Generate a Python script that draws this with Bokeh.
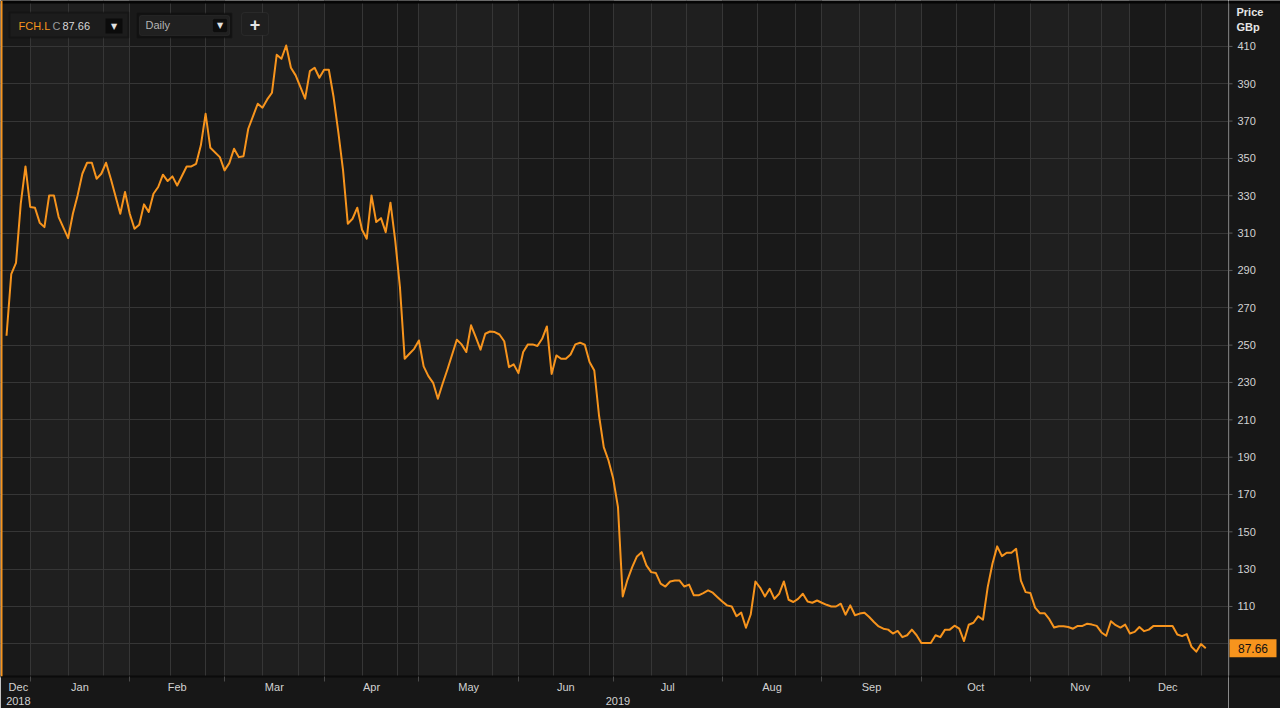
from bokeh.plotting import figure
from bokeh.layouts import row
from bokeh.models import (FixedTicker, Range1d, Label, BoxAnnotation,
                          ColumnDataSource)
from bokeh.core.properties import value
from bokeh.embed import file_html
from bokeh.resources import INLINE

# ---------------- data (trading-day index, close in GBp) ----------------
day = [0, 1, 2, 3, 4, 5, 6, 7, 8, 9, 10, 11, 13, 14, 15, 16, 17, 18, 19, 20,
       21, 22, 24, 25, 26, 27, 28, 29, 30, 31, 32, 33, 34, 35, 36, 38, 39, 40,
       41, 42, 43, 45, 46, 47, 48, 49, 50, 51, 53, 54, 55, 56, 57, 58, 59, 60,
       61, 63, 64, 65, 66, 67, 68, 69, 70, 71, 72, 73, 74, 75, 76, 77, 78, 79,
       80, 81, 82, 83, 84, 85, 86, 87, 88, 89, 90, 91, 92, 93, 95, 96, 97, 98,
       99, 100, 101, 102, 103, 104, 105, 106, 107, 108, 109, 110, 111, 112,
       113, 114, 115, 116, 117, 118, 119, 120, 121, 122, 123, 124, 125, 126,
       127, 128, 129, 130, 131, 132, 133, 134, 135, 136, 137, 138, 139, 140,
       141, 142, 143, 144, 145, 146, 147, 148, 149, 150, 151, 152, 153, 154,
       155, 156, 157, 158, 159, 160, 161, 162, 163, 164, 165, 166, 167, 168,
       169, 170, 171, 172, 173, 174, 175, 176, 177, 178, 179, 180, 181, 182,
       183, 184, 185, 186, 187, 188, 189, 190, 191, 192, 193, 194, 195, 196,
       197, 198, 199, 200, 201, 202, 203, 204, 205, 206, 207, 208, 209, 210,
       211, 212, 213, 214, 215, 216, 217, 218, 219, 220, 221, 222, 223, 224,
       225, 226, 227, 228, 229, 230, 231, 232, 233, 234, 235, 236, 237, 238,
       239, 240, 241, 242, 243, 244, 245, 246, 247, 248, 249, 250, 251, 252,
       253]
price = [255, 288, 294, 325.7, 345.7, 324, 323.6, 315.6, 313.2, 330.2, 330.2,
         318.6, 307.3, 320.4, 330.2, 341.8, 347.7, 347.7, 339.1, 341.8, 347.7,
         339.1, 320.4, 332, 320.4, 312.3, 314.5, 325.4, 321.3, 331.1, 334.7,
         341.3, 337.9, 340.4, 335.5, 345.7, 345.7, 347.1, 357, 373.9, 355.7,
         350.7, 343.6, 347.5, 355.2, 350.7, 351.2, 365.9, 379.3, 377.2, 381.6,
         385.2, 405.5, 403.4, 410.5, 398.6, 394.5, 382, 396.8, 398.6, 393.2,
         397.5, 397.5, 382.9, 364.1, 343.6, 315, 317.7, 323.6, 311.8, 307,
         330.2, 315.9, 318, 310.5, 326.3, 306.1, 281.1, 242.7, 245.4, 248,
         252.5, 238.6, 233.4, 229.8, 221.3, 229.3, 236.8, 252.9, 250.4, 246.3,
         260.6, 254.3, 247.6, 256.1, 257.3, 257, 255.7, 252.1, 238.2, 239.7,
         235, 246.3, 250.4, 250.4, 249.5, 253.4, 260, 234.6, 244.5, 242.7,
         242.7, 245, 250.4, 251.3, 250.2, 241, 236.4, 212.3, 195.4, 188.2,
         178.4, 163.2, 115.4, 124.3, 131.1, 136.8, 139.1, 132, 128.4, 127.9,
         122.2, 120.7, 123.4, 123.9, 123.9, 120.7, 121.7, 116, 116, 117.2,
         118.6, 117.4, 115, 112.7, 110.6, 110, 104.8, 106.7, 98.6, 105.7,
         123.4, 120, 115.4, 119.5, 114.1, 116.8, 123.4, 113.6, 112.4, 114.1,
         116.8, 112.7, 112, 113.2, 112, 110.9, 110, 110, 111.5, 105.6, 110.6,
         105.3, 106.2, 106.7, 104.4, 101.7, 99.3, 98.1, 97.6, 95.5, 96.9, 93.6,
         94.6, 97.6, 94.6, 90.4, 90.4, 90.4, 94.6, 93.6, 97.6, 97.6, 99.7,
         98.1, 91.5, 100.2, 101.3, 104.8, 102.9, 120.4, 132.9, 142.2, 137,
         138.8, 138.8, 140.9, 123.9, 117.7, 117.2, 109.4, 106.4, 106.4, 103.2,
         98.7, 99.4, 99.4, 99, 98.1, 99.6, 99.6, 100.8, 100.3, 99.6, 96.1, 94.3,
         102.1, 100, 98.7, 100.3, 95.5, 96.4, 99, 96.8, 97.6, 99.6, 99.6, 99.6,
         99.6, 99.6, 95, 94.1, 95.2, 88.4, 85.8, 89.9, 87.66]

month_names = ["Dec", "Jan", "Feb", "Mar", "Apr", "May", "Jun", "Jul", "Aug",
               "Sep", "Oct", "Nov", "Dec"]
month_start = [5, 26, 46, 67, 87, 108, 128, 151, 172, 193, 216, 237]
years = ["2018", "2019"]
grid_days = [5, 13, 20.5, 26, 34.5, 42, 46, 54, 61.5, 67, 75, 82.5, 87, 95,
             102.5, 108, 115.5, 123, 128, 136, 143.5, 151, 158.5, 166.5, 172,
             180, 187.5, 193, 200.5, 208.5, 216, 224, 231, 237, 244.5, 252]
y_ticks = [90, 110, 130, 150, 170, 190, 210, 230, 250, 270, 290, 310, 330,
           350, 370, 390, 410]
symbol = "FCH.L"
unit_lines = ["Price", "GBp"]
interval = "Daily"
last_close = price[-1]

# ---------------- layout constants ----------------
ORANGE = "#f7941d"
FONT = "Liberation Sans"
TXT = "#d2d2d2"
BAND = "#171717"
FW, FH = 1228, 676        # main chart frame (page x 0..1228, y 0..676)
AXIS_H = 32               # date axis band height
RW = 52                   # right-hand price axis width
Y0, Y1 = 72.5, 434.6
X0, X1 = -1.27, 257.8

# ---------------- main chart ----------------
p = figure(frame_width=FW, frame_height=FH,
           x_range=Range1d(X0, X1), y_range=Range1d(Y0, Y1),
           y_axis_location=None, output_backend="svg",
           toolbar_location=None,
           min_border_left=0, min_border_top=0, min_border_right=0,
           min_border_bottom=AXIS_H,
           background_fill_color="#1f1f1f", border_fill_color=BAND)
p.outline_line_color = None


def sx(xpage):
    return xpage


def sy(ypage):
    return FH - ypage


# alternating month shading
bounds = [X0] + month_start + [X1]
for i in range(len(bounds) - 1):
    if i % 2 == 0:
        p.add_layout(BoxAnnotation(left=bounds[i], right=bounds[i + 1],
                                   fill_color="#191919", fill_alpha=1.0,
                                   line_color=None, level="image"))

# grids
p.xgrid[0].ticker = FixedTicker(ticks=grid_days)
p.xgrid[0].grid_line_color = "#363636"
p.ygrid[0].ticker = FixedTicker(ticks=y_ticks)
p.ygrid[0].grid_line_color = "#363636"

# price line
p.line(day, price, line_color=ORANGE, line_width=2, line_join="round")

# bottom axis (month labels centred in each month, year labels below)
data_end = day[-1]
mb = [day[0]] + month_start + [data_end]
label_pos = [(mb[i] + mb[i + 1]) / 2 for i in range(len(month_names))]
overrides = {}
for i, name in enumerate(month_names):
    overrides[label_pos[i]] = name
overrides[label_pos[0]] = month_names[0] + "\n" + years[0]
year_pos = (month_start[0] + data_end) / 2
overrides[year_pos] = "\n" + years[1]

xa = p.xaxis[0]
xa.ticker = FixedTicker(ticks=label_pos + [year_pos], minor_ticks=month_start)
xa.major_label_overrides = overrides
xa.major_tick_out = 0
xa.major_tick_in = 0
xa.minor_tick_out = 5
xa.minor_tick_in = 0
xa.minor_tick_line_color = "#4a4a4a"
xa.axis_line_color = "#0b0b0b"
xa.axis_line_width = 2
xa.major_label_standoff = -1
xa.major_label_text_color = TXT
xa.major_label_text_font = FONT
xa.major_label_text_font_size = "11px"

# frame edges: black strip on top, orange rule on the left
p.add_layout(BoxAnnotation(top=sy(0), bottom=sy(3), top_units="screen",
                           bottom_units="screen", fill_color="#050505",
                           fill_alpha=1.0, line_color=None, level="overlay"))
p.add_layout(BoxAnnotation(left=sx(0), right=sx(2), left_units="screen",
                           right_units="screen", fill_color=ORANGE,
                           fill_alpha=1.0, line_color=None, level="overlay"))


# ---------------- top-left controls ----------------
def box(l, r, t, b, fill, line, lw=1, radius=0):
    p.add_layout(BoxAnnotation(left=sx(l), right=sx(r), top=sy(t), bottom=sy(b),
                               left_units="screen", right_units="screen",
                               top_units="screen", bottom_units="screen",
                               fill_color=fill, fill_alpha=1.0,
                               line_color=line, line_width=lw,
                               border_radius=radius, level="overlay"))


def txt(x, y, s, color, size="11px", align="left", style="normal",
        font=FONT):
    p.add_layout(Label(x=sx(x), y=sy(y), x_units="screen", y_units="screen",
                       text=s, text_color=color, text_font=font,
                       text_font_size=size, text_font_style=style,
                       text_align=align, text_baseline="middle",
                       level="overlay"))


box(9, 128, 12, 37, "#1c1c1c", "#050505", 2)
txt(18, 25, symbol, ORANGE)
txt(52, 25, "C", "#9a9a9a")
txt(62, 25, f"{last_close:.2f}", "#d8d8d8")
box(105, 122, 18, 33, "#0b0b0b", None)
txt(113.5, 25.5, "\u25BC", "#e0e0e0", size="8px", align="center",
    font="DejaVu Sans")

box(137, 231, 13, 37, "#151515", "#050505", 2)
box(139, 229, 15, 35, "#202020", "#3a3a3a", 1, 2)
txt(145, 24.5, interval, "#b5b5b5")
box(212, 227, 18, 32, "#0d0d0d", "#333333", 1, 2)
txt(219.5, 25, "\u25BC", "#e0e0e0", size="8px", align="center",
    font="DejaVu Sans")

box(241, 268, 12, 35, "#1f1f1f", "#454545", 1, 3)
txt(254.5, 23.5, "+", "#e6e6e6", size="18px", align="center", style="bold")

# ---------------- right-hand price axis ----------------
ry0 = Y0 - AXIS_H * (Y1 - Y0) / FH
q = figure(frame_width=RW, frame_height=FH + AXIS_H,
           x_range=Range1d(0, RW), y_range=Range1d(ry0, Y1),
           x_axis_location=None, y_axis_location=None,
           output_backend="svg", toolbar_location=None,
           min_border_left=0, min_border_top=0, min_border_right=0,
           min_border_bottom=0,
           background_fill_color=BAND, border_fill_color=BAND)
q.outline_line_color = None
q.xgrid.visible = False
q.ygrid.visible = False

# axis rule, date-axis rule continuation
q.segment(x0=[0.5], y0=[Y0], x1=[0.5], y1=[Y1], line_color="#3a3a3a",
          line_width=1)
q.segment(x0=[0], y0=[Y0], x1=[RW], y1=[Y0], line_color="#0b0b0b",
          line_width=2)
q.add_layout(BoxAnnotation(top=FH + AXIS_H, bottom=FH + AXIS_H - 3,
                           top_units="screen", bottom_units="screen",
                           fill_color="#050505", fill_alpha=1.0,
                           line_color=None, level="overlay"))

tick_src = ColumnDataSource(dict(y=y_ticks, lab=[str(t) for t in y_ticks]))
q.segment(x0=0, y0="y", x1=4, y1="y", source=tick_src,
          line_color="#5a5a5a", line_width=1)
q.text(x=9, y="y", text="lab", source=tick_src, text_font=value(FONT),
       text_font_size="11px", text_color=TXT, text_baseline="middle",
       text_align="left")

for t, yp in zip(unit_lines, (11, 26)):
    q.add_layout(Label(x=8, y=FH + AXIS_H - yp, x_units="screen",
                       y_units="screen", text=t, text_font=FONT,
                       text_font_size="11px", text_font_style="bold",
                       text_color="#e6e6e6", text_baseline="middle",
                       text_align="left"))

# last price tag
tag_src = ColumnDataSource(dict(y=[last_close], lab=[f"{last_close:.2f}"]))
q.rect(x=24.5, y="y", width=47, height=18, height_units="screen",
       source=tag_src, fill_color=ORANGE, line_color=None)
q.text(x=24.5, y="y", text="lab", source=tag_src, text_font=value(FONT),
       text_font_size="12px", text_color="#111111", text_align="center",
       text_baseline="middle")

layout = row(p, q)
open("out.html", "w").write(file_html(layout, INLINE))
